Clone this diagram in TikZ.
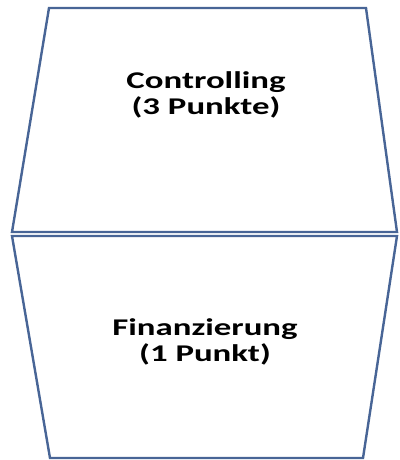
\documentclass[tikz,border=0pt]{standalone}
\usepackage{fontspec}
\setmainfont{Carlito}
\usepackage{tikz}
\usetikzlibrary{positioning}
\definecolor{facecol}{RGB}{72,101,150}

\begin{document}
\begin{tikzpicture}[
    x=1pt, y=1pt, % one unit is one pixel of the picture
    face/.style={
        draw=facecol, % blue-grey border
        line width=2.4pt, % thick edge
        line join=miter,
        fill=white
    },
    facetext/.style={
        align=center, % Center text within nodes
        xscale=1.45, transform shape, % the labels are set wide
        font=\bfseries\fontsize{24}{25.5}\selectfont
    }
]
\useasboundingbox (0,0) rectangle (399,460);

% upper face
\draw[face] (49,452) -- (366,452) -- (397,228) -- (12,228) -- cycle;
% lower face
\draw[face] (12,224) -- (397,224) -- (363,2) -- (50,2) -- cycle;

\node[facetext] (controlling) at (206,365) {Controlling\\(3 Punkte)};
\node[facetext] (finanz) at (205,118) {Finanzierung\\(1 Punkt)};
\end{tikzpicture}
\end{document}
